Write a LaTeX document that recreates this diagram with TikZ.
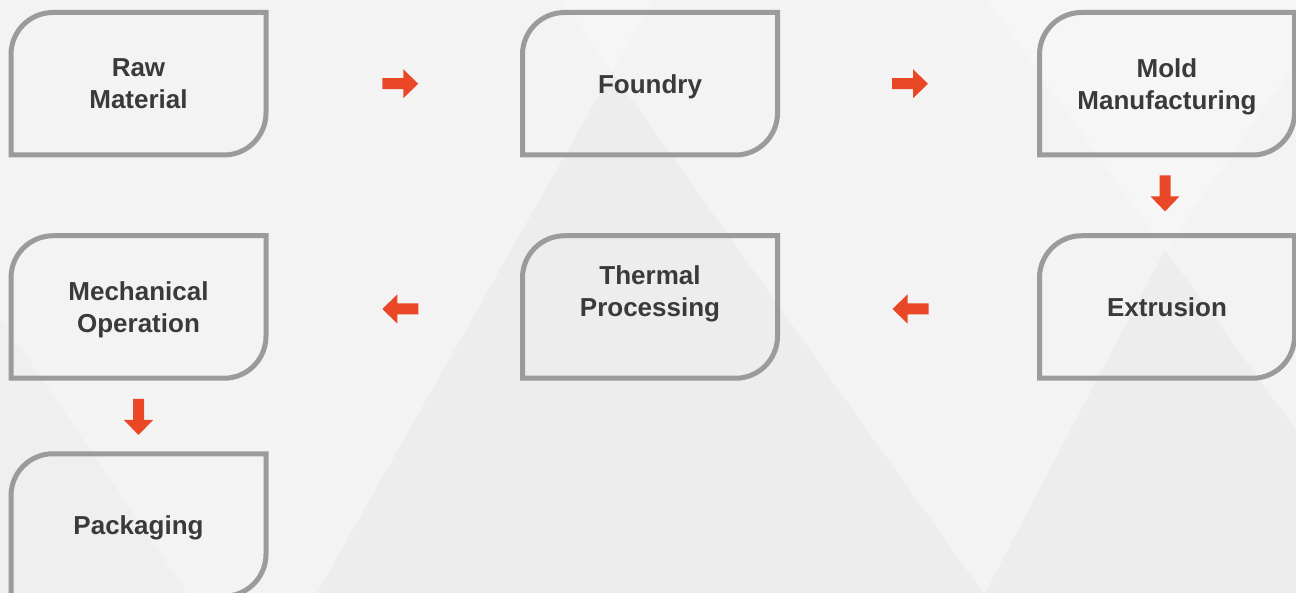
\documentclass[tikz,border=0pt]{standalone}
\usepackage{fontspec}
\setmainfont{Liberation Sans}
\usetikzlibrary{calc}

\definecolor{bgbase}{HTML}{F3F3F3}
\definecolor{bgdark}{HTML}{EDEDED}
\definecolor{bglight}{HTML}{F6F6F6}
\definecolor{boxgrey}{HTML}{9D9B9A}
\definecolor{textgrey}{HTML}{3C3A39}
\definecolor{arrowred}{HTML}{EA4726}

\tikzset{
  stepbox/.style={rectangle, inner sep=0pt, outer sep=0pt,
    minimum width=255pt, minimum height=142.5pt, align=center,
    text depth=0pt,
    text=textgrey, font=\bfseries\fontsize{26}{32}\selectfont},
  boxline/.style={draw=boxgrey, line width=5pt},
  flowarrow/.pic={
    \fill[arrowred] (-18,-5.5) -- (3,-5.5) -- (3,-14.5) -- (18,0)
      -- (3,14.5) -- (3,5.5) -- (-18,5.5) -- cycle;
  }
}

% outline with rounded top-left and bottom-right corners
\newcommand\leafbox[1]{%
  \draw[boxline] (#1.south west) -- ([yshift=-42pt]#1.north west)
    arc[start angle=180, end angle=90, radius=42pt]
    -- (#1.north east) -- ([yshift=42pt]#1.south east)
    arc[start angle=0, end angle=-90, radius=42pt] -- cycle;}

\begin{document}
\begin{tikzpicture}[x=1pt, y=-1pt]
  % background with soft diagonal facets
  \fill[bgbase] (0,0) rectangle (1296,593);
  \useasboundingbox (0,0) rectangle (1296,593);
  \fill[bgdark] (612,72) -- (317,593) -- (983,593) -- cycle;
  \fill[bglight] (561,0) -- (612,72) -- (653,0) -- cycle;
  \fill[bgdark] (1165,250) -- (985,593) -- (1296,593) -- (1296,430) -- cycle;
  \fill[bglight] (987,0) -- (1165,250) -- (1340,0) -- cycle;
  \fill[bgdark!60!bgbase] (0,317) -- (187,593) -- (0,593) -- cycle;

  % process steps
  \node[stepbox] (raw)  at (138.5,83.75) {Raw\\Material};
  \node[stepbox] (foundry) at (650,83.75) {Foundry};
  \node[stepbox] (mold) at (1167,83.75) {Mold\\Manufacturing};
  \node[stepbox] (extrusion) at (1167,307) {Extrusion};
  \node[stepbox, text depth=32pt] (thermal) at (650,307) {Thermal\\Processing};
  \node[stepbox] (mech) at (138.5,307) {Mechanical\\Operation};
  \node[stepbox] (pack) at (138.5,525) {Packaging};

  \foreach \n in {raw,foundry,mold,extrusion,thermal,mech,pack} {\leafbox{\n}}

  % flow arrows between steps
  \pic at ($(raw.east)!0.5!(foundry.west)+(6,0)$) {flowarrow};
  \pic at ($(foundry.east)!0.5!(mold.west)+(1.5,0)$) {flowarrow};
  \pic[rotate=-90] at ($(mold.south)!0.5!(extrusion.north)+(-2,-2)$) {flowarrow};
  \pic[rotate=180] at ($(extrusion.west)!0.5!(thermal.east)+(2,2)$) {flowarrow};
  \pic[rotate=180] at ($(thermal.west)!0.5!(mech.east)+(6,2)$) {flowarrow};
  \pic[rotate=-90] at ($(mech.south)!0.5!(pack.north)+(0,1)$) {flowarrow};
\end{tikzpicture}
\end{document}
